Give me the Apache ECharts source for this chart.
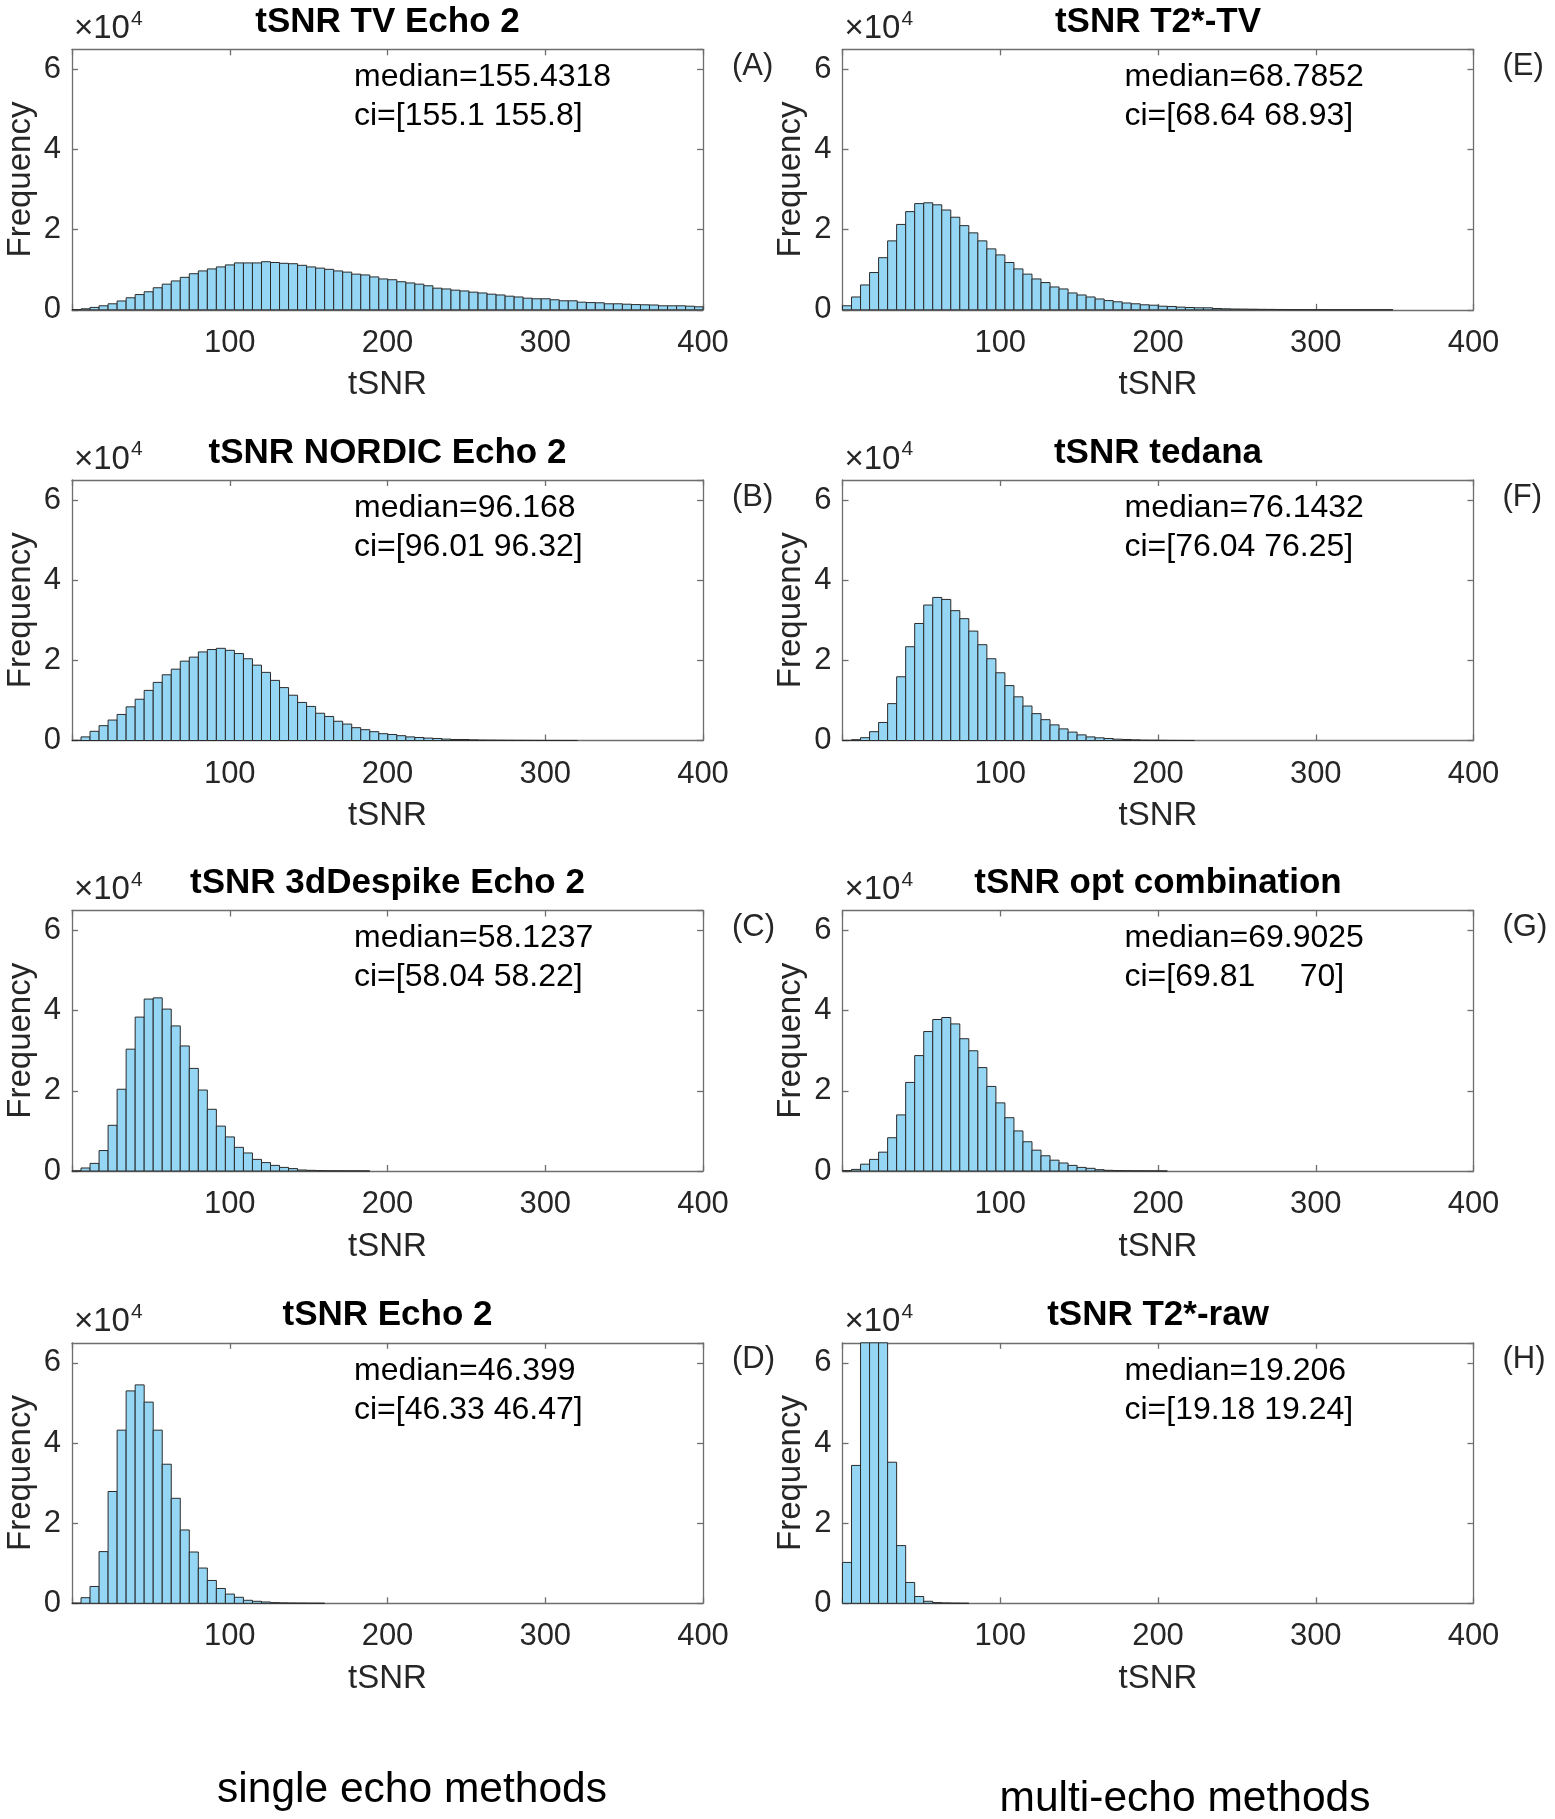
<!DOCTYPE html>
<html>
<head>
<meta charset="utf-8">
<script src="https://cdn.jsdelivr.net/npm/echarts@6/dist/echarts.min.js"></script>
<style>
html,body{margin:0;padding:0;background:#fff;}
#chart{width:1555px;height:1819px;}
</style>
</head>
<body>
<div id="chart"></div>
<script>
// ---------------- data (counts in units of 1e4) ----------------
const binWidth = 5.72;
const xTicks = [0, 100, 200, 300, 400];
const yTicks = [0, 2, 4, 6];

const countsA = [0.005,0.025,0.06,0.1,0.15,0.22,0.3,0.38,0.45,0.55,0.64,0.72,0.81,0.9,0.97,1.02,1.07,1.12,1.17,1.17,1.17,1.2,1.18,1.16,1.15,1.11,1.07,1.04,1.01,0.97,0.94,0.89,0.87,0.82,0.77,0.75,0.7,0.67,0.64,0.6,0.54,0.52,0.49,0.47,0.44,0.42,0.39,0.37,0.34,0.32,0.29,0.275,0.275,0.25,0.225,0.225,0.19,0.18,0.175,0.15,0.15,0.14,0.13,0.125,0.12,0.1,0.1,0.1,0.09,0.075];
const countsB = [0.003,0.09,0.23,0.37,0.51,0.65,0.84,1.03,1.25,1.45,1.64,1.78,1.98,2.08,2.21,2.27,2.3,2.25,2.17,2.04,1.88,1.7,1.5,1.32,1.13,0.95,0.85,0.68,0.6,0.48,0.41,0.32,0.27,0.22,0.17,0.15,0.12,0.09,0.075,0.06,0.05,0.035,0.025,0.025,0.017,0.012,0.01,0.008,0.006,0.005,0.004,0.003,0.002,0.002,0.0015,0.001];
const countsC = [0.003,0.075,0.19,0.51,1.14,2.04,3.04,3.84,4.29,4.32,4.04,3.62,3.12,2.56,2.02,1.54,1.12,0.85,0.59,0.45,0.29,0.21,0.14,0.09,0.06,0.025,0.017,0.01,0.006,0.004,0.003,0.002,0.001];
const countsD = [0.003,0.14,0.42,1.29,2.79,4.32,5.3,5.45,5.02,4.32,3.47,2.62,1.83,1.28,0.88,0.57,0.37,0.23,0.15,0.075,0.05,0.033,0.017,0.01,0.006,0.004,0.002,0.001];
const countsE = [0.1,0.32,0.62,0.93,1.3,1.72,2.13,2.45,2.65,2.67,2.62,2.49,2.31,2.1,1.92,1.72,1.52,1.37,1.18,1.02,0.89,0.77,0.68,0.57,0.52,0.42,0.37,0.32,0.27,0.23,0.2,0.17,0.15,0.125,0.115,0.09,0.083,0.067,0.058,0.05,0.05,0.033,0.025,0.02,0.018,0.015,0.012,0.01,0.008,0.006,0.005,0.004,0.003,0.003,0.002,0.002,0.0015,0.001,0.001,0.001,0.001];
const countsF = [0.002,0.02,0.07,0.22,0.45,0.92,1.59,2.34,2.92,3.38,3.57,3.52,3.24,3.04,2.73,2.39,2.04,1.69,1.37,1.09,0.86,0.67,0.52,0.39,0.29,0.21,0.14,0.09,0.067,0.05,0.033,0.025,0.017,0.01,0.008,0.005,0.003,0.002,0.001];
const countsG = [0.01,0.04,0.17,0.29,0.47,0.83,1.4,2.21,2.88,3.48,3.78,3.83,3.67,3.3,3.0,2.58,2.11,1.7,1.33,1.0,0.73,0.52,0.38,0.27,0.2,0.14,0.09,0.067,0.033,0.017,0.01,0.007,0.005,0.003,0.002,0.001];
const countsH = [1.02,3.44,9.0,11.0,9.5,3.52,1.44,0.52,0.17,0.05,0.017,0.008,0.003,0.001];

const panelTitles = ['tSNR TV Echo 2','tSNR NORDIC Echo 2','tSNR 3dDespike Echo 2','tSNR Echo 2','tSNR T2*-TV','tSNR tedana','tSNR opt combination','tSNR T2*-raw'];
const panelLetters = ['(A)','(B)','(C)','(D)','(E)','(F)','(G)','(H)'];
const medianTexts = ['median=155.4318','median=96.168','median=58.1237','median=46.399','median=68.7852','median=76.1432','median=69.9025','median=19.206'];
const ciTexts = ['ci=[155.1 155.8]','ci=[96.01 96.32]','ci=[58.04 58.22]','ci=[46.33 46.47]','ci=[68.64 68.93]','ci=[76.04 76.25]','ci=[69.81     70]','ci=[19.18 19.24]'];
const panelCounts = [countsA,countsB,countsC,countsD,countsE,countsF,countsG,countsH];
const columnLabels = ['single echo methods','multi-echo methods'];

// ---------------- layout ----------------
const FONT = "'Liberation Sans', Arial, Helvetica, sans-serif";
const colLeft = [72, 842.5];
const gridW = 631;
const rowTop = [49.3, 480, 910.5, 1342.8];
const gridH = 260.5;
const axisCol = '#6e6e6e';
const labelCol = '#262626';

const grids = [], xAxes = [], yAxes = [], series = [], graphics = [];

panelCounts.forEach((counts, i) => {
  const col = i < 4 ? 0 : 1;
  const row = i % 4;
  const L = colLeft[col], T = rowTop[row];
  grids.push({left: L, top: T, width: gridW, height: gridH, containLabel: false});
  const xb = xAxes.length;
  xAxes.push({
    type: 'value', gridIndex: i, position: 'bottom', min: xTicks[0], max: xTicks[xTicks.length-1], interval: 100,
    name: 'tSNR', nameLocation: 'middle', nameGap: 59,
    nameTextStyle: {fontSize: 33, color: labelCol, fontFamily: FONT},
    axisLine: {show: true, onZero: false, lineStyle: {color: axisCol, width: 1.3}},
    axisTick: {show: true, inside: true, length: 6, lineStyle: {color: axisCol, width: 1.3}},
    axisLabel: {show: true, margin: 18, fontSize: 31, color: labelCol, fontFamily: FONT,
      formatter: v => (v === 0 ? '' : String(v))},
    splitLine: {show: false}
  });
  xAxes.push({
    type: 'value', gridIndex: i, position: 'top', min: xTicks[0], max: xTicks[xTicks.length-1], interval: 100,
    axisLine: {show: true, onZero: false, lineStyle: {color: axisCol, width: 1.3}},
    axisTick: {show: true, inside: true, length: 6, lineStyle: {color: axisCol, width: 1.3}},
    axisLabel: {show: false}, splitLine: {show: false}
  });
  const yb = yAxes.length;
  yAxes.push({
    type: 'value', gridIndex: i, position: 'left', min: 0, max: 6.5, interval: 2,
    name: 'Frequency', nameLocation: 'middle', nameGap: 35,
    nameTextStyle: {fontSize: 33, color: labelCol, fontFamily: FONT},
    axisLine: {show: true, onZero: false, lineStyle: {color: axisCol, width: 1.3}},
    axisTick: {show: true, inside: true, length: 6, lineStyle: {color: axisCol, width: 1.3}},
    axisLabel: {show: true, margin: 11, fontSize: 31, color: labelCol, fontFamily: FONT},
    splitLine: {show: false}
  });
  yAxes.push({
    type: 'value', gridIndex: i, position: 'right', min: 0, max: 6.5, interval: 2,
    axisLine: {show: true, onZero: false, lineStyle: {color: axisCol, width: 1.3}},
    axisTick: {show: true, inside: true, length: 6, lineStyle: {color: axisCol, width: 1.3}},
    axisLabel: {show: false}, splitLine: {show: false}
  });
  const data = counts.map((c, k) => [k * binWidth, (k + 1) * binWidth, c]);
  series.push({
    type: 'custom', xAxisIndex: xb, yAxisIndex: yb, data: data,
    encode: {x: [0, 1], y: 2},
    renderItem: function (params, api) {
      const p0 = api.coord([api.value(0), api.value(2)]);
      const p1 = api.coord([api.value(1), 0]);
      const cs = params.coordSys;
      const rect = echarts.graphic.clipRectByRect(
        {x: p0[0], y: p0[1], width: p1[0] - p0[0], height: p1[1] - p0[1]},
        {x: cs.x, y: cs.y, width: cs.width, height: cs.height});
      if (!rect) return null;
      return {type: 'rect', shape: rect, style: {fill: '#94d6f3', stroke: '#2b2b2b', lineWidth: 1}};
    }
  });
  // title
  graphics.push({type: 'text', x: L + gridW / 2, y: T - 27,
    style: {text: panelTitles[i], fontSize: 35, fontWeight: 'bold', fill: '#000', fontFamily: FONT,
      textAlign: 'center', textVerticalAlign: 'middle'}});
  // x10^4
  graphics.push({type: 'text', x: L + 2, y: T - 4,
    style: {text: '{a|×10}{b|4}', textAlign: 'left', textVerticalAlign: 'bottom', fontFamily: FONT,
      rich: {a: {fontSize: 33, fill: labelCol, fontFamily: FONT, verticalAlign: 'bottom'},
             b: {fontSize: 21, fill: labelCol, fontFamily: FONT, verticalAlign: 'top', padding: [0,0,16,1]}}}});
  // median / ci
  graphics.push({type: 'text', x: L + 282, y: T + 28,
    style: {text: medianTexts[i], fontSize: 32, fill: '#000', fontFamily: FONT, textAlign: 'left', textVerticalAlign: 'middle'}});
  graphics.push({type: 'text', x: L + 282, y: T + 67,
    style: {text: ciTexts[i], fontSize: 32, fill: '#000', fontFamily: FONT, textAlign: 'left', textVerticalAlign: 'middle'}});
  // panel letter
  graphics.push({type: 'text', x: L + 660, y: T + 17,
    style: {text: panelLetters[i], fontSize: 31, fill: labelCol, fontFamily: FONT, textAlign: 'left', textVerticalAlign: 'middle'}});
});

graphics.push({type: 'text', x: 412, y: 1790,
  style: {text: columnLabels[0], fontSize: 42.5, fill: '#000', fontFamily: FONT, textAlign: 'center', textVerticalAlign: 'middle'}});
graphics.push({type: 'text', x: 1185, y: 1799,
  style: {text: columnLabels[1], fontSize: 42.5, fill: '#000', fontFamily: FONT, textAlign: 'center', textVerticalAlign: 'middle'}});

const chart = echarts.init(document.getElementById('chart'), null, {renderer: 'canvas'});
chart.setOption({
  animation: false,
  backgroundColor: '#ffffff',
  grid: grids, xAxis: xAxes, yAxis: yAxes, series: series, graphic: graphics
});
</script>
</body>
</html>
